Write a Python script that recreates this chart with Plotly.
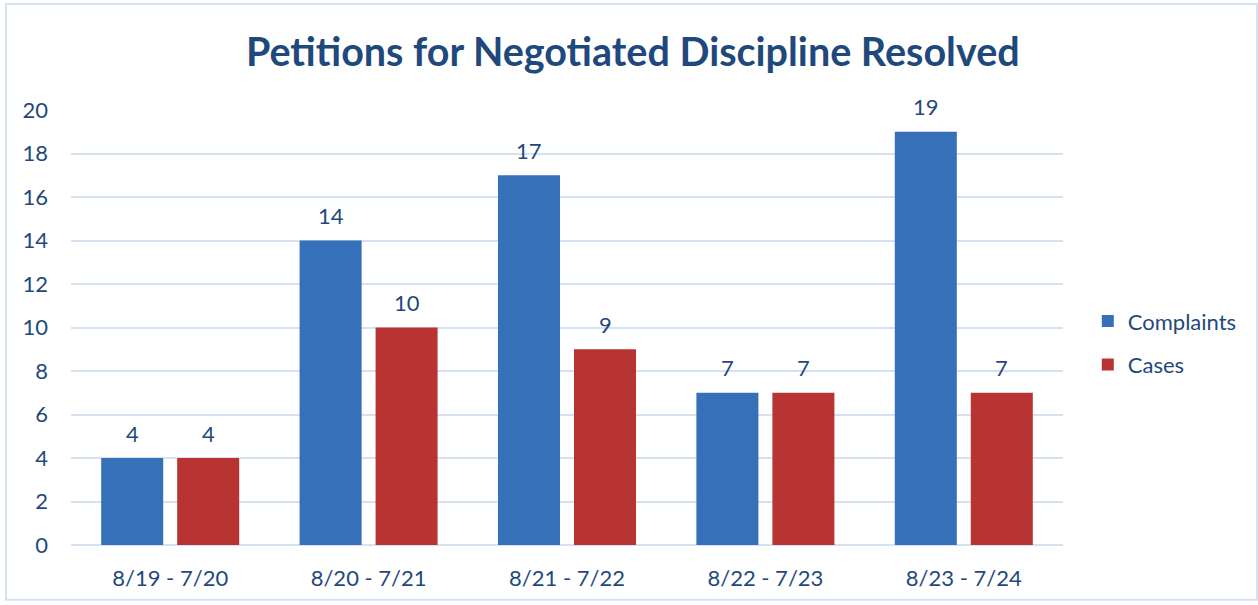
import plotly.graph_objects as go

categories = ["8/19 - 7/20", "8/20 - 7/21", "8/21 - 7/22", "8/22 - 7/23", "8/23 - 7/24"]
complaints = [4, 14, 17, 7, 19]
cases = [4, 10, 9, 7, 7]
y_ticks = [0, 2, 4, 6, 8, 10, 12, 14, 16, 18, 20]

TXT = "#1F497D"
FONT = "Lato"
SZ = 22

fig = go.Figure()
fig.add_trace(go.Bar(
    name="Complaints", x=categories, y=complaints, legendgroup="a",
    marker=dict(color="#3570B9", line=dict(width=0)),
))
fig.add_trace(go.Bar(
    name="Cases", x=categories, y=cases, legendgroup="b",
    marker=dict(color="#B73432", line=dict(width=0)),
))

annotations = []
for series, shift in ((complaints, -38), (cases, 38)):
    for cat, val in zip(categories, series):
        annotations.append(dict(
            x=cat, y=val, xref="x", yref="y", text=str(val), showarrow=False,
            xshift=shift, yshift=25, yanchor="middle",
            font=dict(size=SZ, color=TXT, family=FONT)))

fig.update_layout(
    width=1258, height=605,
    margin=dict(l=71, r=195, t=110, b=60),
    paper_bgcolor="white", plot_bgcolor="white",
    barmode="group", bargap=0.234, bargroupgap=0.184,
    font=dict(family=FONT, color=TXT, size=SZ),
    title=dict(text="<b>Petitions for Negotiated Discipline Resolved</b>",
               x=0.503, xanchor="center", y=0.914, yanchor="middle",
               font=dict(size=39.5, color=TXT, family=FONT)),
    legend=dict(x=1.025, y=0.464, xanchor="left", yanchor="middle",
                font=dict(size=SZ, color=TXT, family=FONT),
                itemsizing="constant", tracegroupgap=12, bgcolor="rgba(0,0,0,0)"),
    yaxis=dict(range=[0, 20], tickvals=y_ticks, showgrid=True,
               gridcolor="#D6E2F1", gridwidth=2, zeroline=True,
               zerolinecolor="#D6E2F1", zerolinewidth=2,
               tickfont=dict(size=SZ, color=TXT, family=FONT),
               ticks="", ticklabelstandoff=22, showline=False),
    xaxis=dict(showgrid=False, ticks="", showline=False,
               tickfont=dict(size=SZ, color=TXT, family=FONT),
               ticklabelstandoff=18),
    annotations=annotations,
    shapes=[dict(type="rect", xref="paper", yref="paper",
                 x0=-0.0655, x1=1.1956, y0=-0.126, y1=1.2437,
                 line=dict(color="#D6E2F1", width=2), layer="below")],
)

fig.write_html("out.html", config={"displayModeBar": False},
               post_script="document.body.style.margin='0';")
